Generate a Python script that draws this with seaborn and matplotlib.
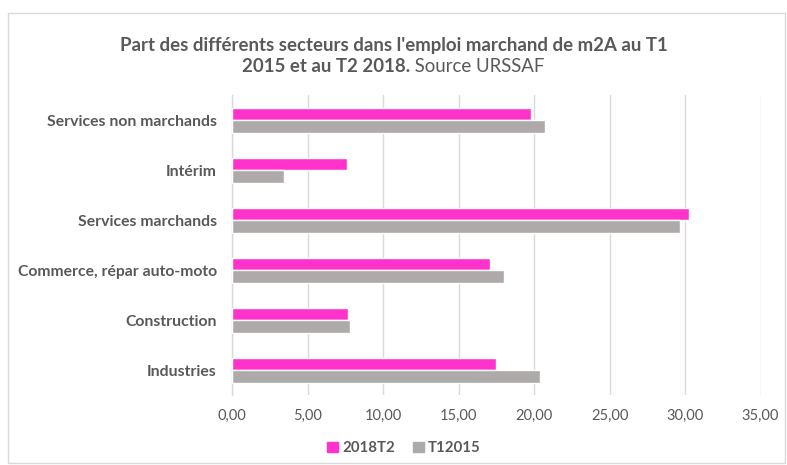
import matplotlib
matplotlib.use("Agg")
import matplotlib.pyplot as plt
import seaborn as sns
import pandas as pd
from matplotlib.patches import Rectangle
from matplotlib.ticker import FuncFormatter, MultipleLocator

categories = ["Services non marchands", "Intérim", "Services marchands",
              "Commerce, répar auto-moto", "Construction", "Industries"]
series_names = ["2018T2", "T12015"]
values_2018T2 = [19.82, 7.63, 30.28, 17.06, 7.70, 17.50]
values_T12015 = [20.75, 3.46, 29.67, 17.99, 7.79, 20.40]
colors = ["#FF33CC", "#AEAAAA"]

df = pd.DataFrame({
    "secteur": categories * 2,
    "serie": [series_names[0]] * len(categories) + [series_names[1]] * len(categories),
    "valeur": values_2018T2 + values_T12015,
})

sns.set_theme(style="white")
plt.rcParams["font.family"] = ["Lato", "DejaVu Sans"]
txt = "#595959"

fig = plt.figure(figsize=(7.87, 4.65), dpi=100)
ax = fig.add_axes([232 / 787, 1 - 395 / 465, (760.6 - 232) / 787, 300 / 465])

sns.barplot(data=df, y="secteur", x="valeur", hue="serie", order=categories,
            hue_order=series_names, palette=colors, orient="h", width=0.5,
            gap=0, saturation=1, ax=ax, legend=False, zorder=3)

ax.set_xlim(0, 35)
ax.xaxis.set_major_locator(MultipleLocator(5))
ax.xaxis.set_major_formatter(FuncFormatter(lambda v, p: f"{v:.2f}".replace(".", ",")))
ax.grid(axis="x", color="#D9D9D9", linewidth=1, zorder=0)
ax.grid(axis="y", visible=False)
for s in ["top", "right", "bottom"]:
    ax.spines[s].set_visible(False)
ax.spines["left"].set_color("#D9D9D9")
ax.spines["left"].set_linewidth(1)
ax.set_xlabel("")
ax.set_ylabel("")
ax.tick_params(axis="both", length=0)
ax.tick_params(axis="x", pad=10, labelsize=10.5, labelcolor=txt)
ax.tick_params(axis="y", pad=11, labelsize=11.3, labelcolor=txt)
for lab in ax.get_yticklabels():
    lab.set_fontweight("bold")

# Outer frame
fig.patches.append(Rectangle((8 / 787, 2 / 465), 777 / 787, 450 / 465,
                             transform=fig.transFigure, fill=False,
                             edgecolor="#D9D9D9", linewidth=1))

# Title
fig.text(0.5, 1 - 46 / 465, "Part des différents secteurs dans l'emploi marchand de m2A au T1",
         ha="center", va="center", fontsize=13.4, fontweight="bold", color=txt)
t1 = fig.text(0.5, 1 - 67 / 465, "2015 et au T2 2018.", ha="right", va="center",
              fontsize=13.4, fontweight="bold", color=txt)
fig.canvas.draw()
r = fig.canvas.get_renderer()
w1 = t1.get_window_extent(r).width
t2 = fig.text(0.5, 1 - 67 / 465, " Source URSSAF", ha="left", va="center",
              fontsize=13.4, color=txt)
w2 = t2.get_window_extent(r).width
shift = (w1 - w2) / 2 / 787
t1.set_x(0.5 + shift)
t2.set_x(0.5 + shift)

# Legend
handles = [Rectangle((0, 0), 1, 1, color=c) for c in colors]
leg = fig.legend(handles, series_names, loc="center", bbox_to_anchor=(404 / 787, 1 - 448 / 465),
                 ncol=2, frameon=False, prop={"family": ["Lato", "DejaVu Sans"], "weight": "bold", "size": 10.8},
                 handlelength=0.7, handleheight=0.7, handletextpad=0.3, columnspacing=1.2,
                 labelcolor=txt)

fig.savefig("out.png", dpi=100)
